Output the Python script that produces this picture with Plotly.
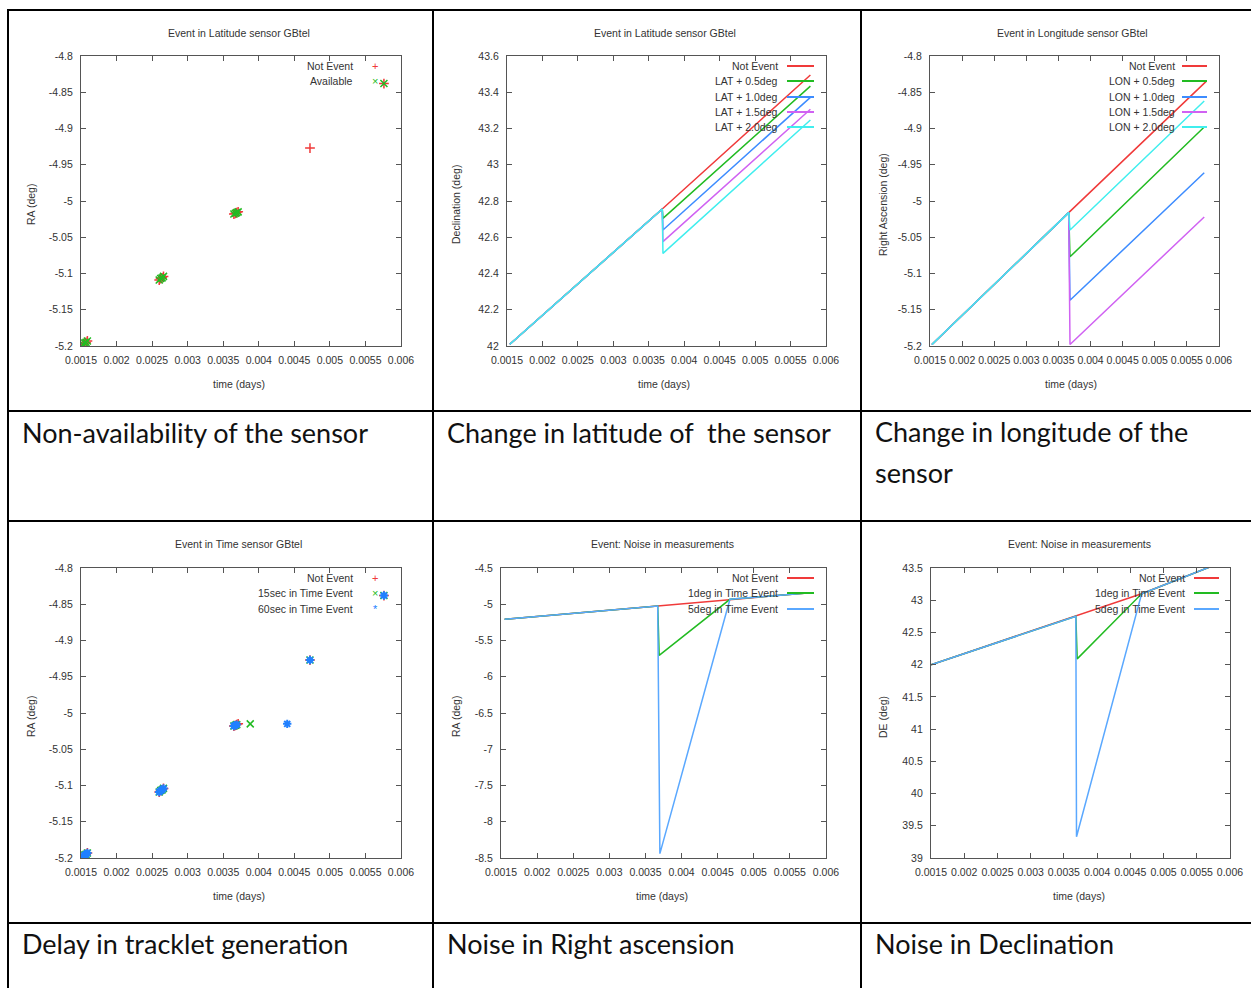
import plotly.graph_objects as go

W, H = 1251, 988

# ---------------- data ----------------
# Panel 1: Non-availability of the sensor (RA vs time)
na_not_t = [0.00153, 0.00155, 0.00157, 0.00159, 0.00260, 0.00262, 0.00264, 0.00266,
            0.00365, 0.00367, 0.00369, 0.00371, 0.00472, 0.00576]
na_not_ra = [-5.198, -5.196, -5.195, -5.193, -5.109, -5.107, -5.106, -5.104,
             -5.018, -5.017, -5.016, -5.015, -4.927, -4.838]
na_av_t = [0.00153, 0.00155, 0.00157, 0.00159, 0.00260, 0.00262, 0.00264, 0.00266,
           0.00365, 0.00367, 0.00369, 0.00371, 0.00576]
na_av_ra = [-5.198, -5.196, -5.195, -5.193, -5.109, -5.107, -5.106, -5.104,
            -5.018, -5.017, -5.016, -5.015, -4.838]

# Panel 2: Change in latitude (Declination vs time)
lat_not_t = [0.00154, 0.00369, 0.00578]
lat_not = [42.01, 42.756, 43.495]
lat_ev_t = [0.00154, 0.00369, 0.00370, 0.00578]
lat_05 = [42.01, 42.756, 42.704, 43.434]
lat_10 = [42.01, 42.756, 42.640, 43.372]
lat_15 = [42.01, 42.756, 42.576, 43.306]
lat_20 = [42.01, 42.756, 42.511, 43.247]

# Panel 3: Change in longitude (Right Ascension vs time)
lon_not_t = [0.00153, 0.00366, 0.00580]
lon_not = [-5.198, -5.016, -4.835]
lon_ev_t = [0.00153, 0.00366, 0.00368, 0.00577]
lon_05 = [-5.198, -5.016, -5.077, -4.898]
lon_10 = [-5.198, -5.016, -5.137, -4.961]
lon_15 = [-5.198, -5.016, -5.198, -5.022]
lon_20 = [-5.198, -5.016, -5.040, -4.862]

# Panel 4: Delay in tracklet generation (RA vs time)
td_not_t = [0.00153, 0.00155, 0.00157, 0.00159, 0.00260, 0.00262, 0.00264, 0.00266,
            0.00365, 0.00367, 0.00369, 0.00371, 0.00472, 0.00576]
td_not_ra = [-5.198, -5.196, -5.195, -5.193, -5.109, -5.107, -5.106, -5.104,
             -5.018, -5.017, -5.016, -5.015, -4.927, -4.838]
td_15_t = [0.00153, 0.00155, 0.00157, 0.00159, 0.00260, 0.00262, 0.00264, 0.00266,
           0.00365, 0.00367, 0.00369, 0.00388, 0.00472, 0.00576]
td_15_ra = [-5.198, -5.196, -5.195, -5.193, -5.109, -5.107, -5.106, -5.104,
            -5.018, -5.017, -5.016, -5.015, -4.927, -4.838]
td_60_t = [0.00153, 0.00155, 0.00157, 0.00159, 0.00260, 0.00262, 0.00264, 0.00266,
           0.00365, 0.00367, 0.00369, 0.00440, 0.00472, 0.00576]
td_60_ra = [-5.198, -5.196, -5.195, -5.193, -5.109, -5.107, -5.106, -5.104,
            -5.018, -5.017, -5.016, -5.015, -4.927, -4.838]

# Panel 5: Noise in Right ascension
nra_not_t = [0.00155, 0.00367, 0.00467, 0.00578]
nra_not = [-5.208, -5.024, -4.932, -4.840]
nra_1_t = [0.00155, 0.00367, 0.00369, 0.00467, 0.00578]
nra_1 = [-5.208, -5.024, -5.705, -4.932, -4.840]
nra_5_t = [0.00155, 0.00367, 0.00370, 0.00467, 0.00578]
nra_5 = [-5.208, -5.024, -8.440, -4.932, -4.840]

# Panel 6: Noise in Declination
nde_not_t = [0.00150, 0.00368, 0.00467, 0.00578]
nde_not = [42.00, 42.75, 43.10, 43.55]
nde_1_t = [0.00150, 0.00368, 0.00370, 0.00467, 0.00578]
nde_1 = [42.00, 42.75, 42.09, 43.10, 43.55]
nde_5_t = [0.00150, 0.00368, 0.00369, 0.00467, 0.00578]
nde_5 = [42.00, 42.75, 39.33, 43.10, 43.55]

# tick values / labels
x_tickvals = [0.0015, 0.002, 0.0025, 0.003, 0.0035, 0.004, 0.0045, 0.005, 0.0055, 0.006]
x_ticktext = ["0.0015", "0.002", "0.0025", "0.003", "0.0035", "0.004", "0.0045", "0.005", "0.0055", "0.006"]
ra_tickvals = [-4.8, -4.85, -4.9, -4.95, -5.0, -5.05, -5.1, -5.15, -5.2]
ra_ticktext = ["-4.8", "-4.85", "-4.9", "-4.95", "-5", "-5.05", "-5.1", "-5.15", "-5.2"]
dec_tickvals = [42.0, 42.2, 42.4, 42.6, 42.8, 43.0, 43.2, 43.4, 43.6]
dec_ticktext = ["42", "42.2", "42.4", "42.6", "42.8", "43", "43.2", "43.4", "43.6"]
nra_tickvals = [-4.5, -5.0, -5.5, -6.0, -6.5, -7.0, -7.5, -8.0, -8.5]
nra_ticktext = ["-4.5", "-5", "-5.5", "-6", "-6.5", "-7", "-7.5", "-8", "-8.5"]
nde_tickvals = [39.0, 39.5, 40.0, 40.5, 41.0, 41.5, 42.0, 42.5, 43.0, 43.5]
nde_ticktext = ["39", "39.5", "40", "40.5", "41", "41.5", "42", "42.5", "43", "43.5"]

# ---------------- style ----------------
RED = '#f03a3a'
GREEN = '#22bb22'
BLUE = '#3d8cff'
MAGENTA = '#d062f2'
CYAN = '#40eeee'
LBLUE = '#5aa8ff'
SBLUE = '#2080ff'
FONT = 'Liberation Sans, Arial, sans-serif'
CAPFONT = 'Lato, Noto Sans, sans-serif'
TXT = '#333333'


def px(x):
    return x / W


def py(y):
    return 1 - y / H


fig = go.Figure()

# panel plot areas in pixels: (left, right, top, bottom)
areas = {
    1: (81, 401, 56, 346),
    2: (507, 826, 56, 346),
    3: (930, 1219, 56, 346),
    4: (81, 401, 568, 858),
    5: (501, 826, 568, 858),
    6: (931, 1230, 568, 858),
}
yspec = {
    1: ([-5.2, -4.8], ra_tickvals, ra_ticktext),
    2: ([42.0, 43.6], dec_tickvals, dec_ticktext),
    3: ([-5.2, -4.8], ra_tickvals, ra_ticktext),
    4: ([-5.2, -4.8], ra_tickvals, ra_ticktext),
    5: ([-8.5, -4.5], nra_tickvals, nra_ticktext),
    6: ([39.0, 43.5], nde_tickvals, nde_ticktext),
}

layout_axes = {}
for i, (l, r, t, b) in areas.items():
    sfx = '' if i == 1 else str(i)
    common = dict(ticks='inside', ticklen=5, tickwidth=1, tickcolor='#555555',
                  showline=True, linecolor='#555555', linewidth=1.2, mirror='ticks',
                  showgrid=False, zeroline=False, fixedrange=True, automargin=False,
                  tickfont=dict(family=FONT, size=10.5, color=TXT))
    layout_axes['xaxis' + sfx] = dict(common, domain=[px(l), px(r)], range=[0.0015, 0.006],
                                      tickvals=x_tickvals, ticktext=x_ticktext,
                                      anchor='y' + sfx, ticklabelstandoff=4)
    rng, tv, tt = yspec[i]
    layout_axes['yaxis' + sfx] = dict(common, domain=[py(b), py(t)], range=rng,
                                      tickvals=tv, ticktext=tt,
                                      anchor='x' + sfx, ticklabelstandoff=5)


def line(i, x, y, color, name):
    sfx = '' if i == 1 else str(i)
    fig.add_trace(go.Scatter(x=x, y=y, mode='lines', name=name, showlegend=False,
                             line=dict(color=color, width=1.5),
                             xaxis='x' + sfx, yaxis='y' + sfx))


def pts(i, x, y, color, symbol, name, size=7, lw=1.5):
    sfx = '' if i == 1 else str(i)
    fig.add_trace(go.Scatter(x=x, y=y, mode='markers', name=name, showlegend=False,
                             marker=dict(symbol=symbol, size=size, color=color,
                                         line=dict(color=color, width=lw)),
                             xaxis='x' + sfx, yaxis='y' + sfx))


# Panel 1
pts(1, na_not_t, na_not_ra, RED, 'cross-thin', 'Not Event')
pts(1, na_av_t, na_av_ra, GREEN, 'x-thin', 'Available')
# Panel 2
line(2, lat_not_t, lat_not, RED, 'Not Event')
line(2, lat_ev_t, lat_05, GREEN, 'LAT + 0.5deg')
line(2, lat_ev_t, lat_10, BLUE, 'LAT + 1.0deg')
line(2, lat_ev_t, lat_15, MAGENTA, 'LAT + 1.5deg')
line(2, lat_ev_t, lat_20, CYAN, 'LAT + 2.0deg')
# Panel 3
line(3, lon_not_t, lon_not, RED, 'Not Event')
line(3, lon_ev_t, lon_05, GREEN, 'LON + 0.5deg')
line(3, lon_ev_t, lon_10, BLUE, 'LON + 1.0deg')
line(3, lon_ev_t, lon_15, MAGENTA, 'LON + 1.5deg')
line(3, lon_ev_t, lon_20, CYAN, 'LON + 2.0deg')
# Panel 4
pts(4, td_not_t, td_not_ra, RED, 'cross-thin', 'Not Event')
pts(4, td_15_t, td_15_ra, GREEN, 'x-thin', '15sec in Time Event')
pts(4, td_60_t, td_60_ra, SBLUE, 'asterisk', '60sec in Time Event', size=7, lw=2)
# Panel 5
line(5, nra_not_t, nra_not, RED, 'Not Event')
line(5, nra_1_t, nra_1, GREEN, '1deg in Time Event')
line(5, nra_5_t, nra_5, LBLUE, '5deg in Time Event')
# Panel 6
line(6, nde_not_t, nde_not, RED, 'Not Event')
line(6, nde_1_t, nde_1, GREEN, '1deg in Time Event')
line(6, nde_5_t, nde_5, LBLUE, '5deg in Time Event')

annotations = []
shapes = []


def text(x, y, s, size=10.5, xanchor='center', color=TXT, family=FONT, angle=0):
    annotations.append(dict(x=px(x), y=py(y), xref='paper', yref='paper', text=s,
                            showarrow=False, xanchor=xanchor, yanchor='middle',
                            textangle=angle, font=dict(family=family, size=size, color=color)))


def hline(x0, x1, y, color='black', width=2):
    shapes.append(dict(type='line', xref='paper', yref='paper', x0=px(x0), x1=px(x1),
                       y0=py(y), y1=py(y), line=dict(color=color, width=width)))


def vline(x, y0, y1, color='black', width=2):
    shapes.append(dict(type='line', xref='paper', yref='paper', x0=px(x), x1=px(x),
                       y0=py(y0), y1=py(y1), line=dict(color=color, width=width)))


# titles
titles = [(239, 33, "Event in Latitude sensor GBtel"),
          (665, 33, "Event in Latitude sensor GBtel"),
          (1072, 33, "Event in Longitude sensor GBtel"),
          (239, 544, "Event in Time sensor GBtel"),
          (662, 544, "Event: Noise in measurements"),
          (1079, 544, "Event: Noise in measurements")]
for x, y, s in titles:
    text(x, y, s)

# x labels
for x, y in [(239, 384), (664, 384), (1071, 384), (239, 896), (662, 896), (1079, 896)]:
    text(x, y, "time (days)")

# y labels
for x, y, s in [(31, 205, "RA (deg)"), (456, 205, "Declination (deg)"),
                (883, 205, "Right Ascension (deg)"), (31, 717, "RA (deg)"),
                (456, 717, "RA (deg)"), (883, 717, "DE (deg)")]:
    text(x, y, s, angle=-90)

# legends (gnuplot style: right-aligned text then sample)
rows1 = [66, 81, 97, 112, 127]
rows2 = [578, 593, 609]


def line_legend(text_right, s0, s1, rows, entries):
    for y, (s, c) in zip(rows, entries):
        text(text_right, y, s, xanchor='right')
        hline(s0, s1, y, color=c, width=2)


def mark_legend(text_right, mx, rows, entries):
    for y, (s, c, g) in zip(rows, entries):
        text(text_right, y, s, xanchor='right')
        text(mx, y, g, size=11, color=c)


mark_legend(355, 375, rows1, [("Not Event", RED, "+"), ("Available", GREEN, "×")])
line_legend(780, 787, 814, rows1, [("Not Event", RED), ("LAT + 0.5deg", GREEN),
                                    ("LAT + 1.0deg", BLUE), ("LAT + 1.5deg", MAGENTA),
                                    ("LAT + 2.0deg", CYAN)])
line_legend(1177, 1182, 1207, rows1, [("Not Event", RED), ("LON + 0.5deg", GREEN),
                                       ("LON + 1.0deg", BLUE), ("LON + 1.5deg", MAGENTA),
                                       ("LON + 2.0deg", CYAN)])
mark_legend(355, 375, rows2, [("Not Event", RED, "+"), ("15sec in Time Event", GREEN, "×"),
                              ("60sec in Time Event", SBLUE, "*")])
line_legend(780, 787, 814, rows2, [("Not Event", RED), ("1deg in Time Event", GREEN),
                                    ("5deg in Time Event", LBLUE)])
line_legend(1187, 1194, 1219, rows2, [("Not Event", RED), ("1deg in Time Event", GREEN),
                                       ("5deg in Time Event", LBLUE)])

# captions
CAP = 27
for x, y, s in [(20, 432, "Non-availability of the sensor"),
                (445, 432, "Change in latitude of\u00a0 the sensor"),
                (873, 431, "Change in longitude of the"),
                (873, 472, "sensor"),
                (20, 943, "Delay in tracklet generation"),
                (445, 943, "Noise in Right ascension"),
                (873, 943, "Noise in Declination")]:
    text(x, y, s, size=CAP, xanchor='left', color='#111111', family=CAPFONT)

# table grid
for x in [8, 433, 861]:
    vline(x, 9, 988)
for y in [10, 411, 521, 923]:
    hline(7, 1251, y)

fig.update_layout(width=W, height=H, autosize=False,
                  margin=dict(l=0, r=0, t=0, b=0, pad=0, autoexpand=False),
                  paper_bgcolor='white', plot_bgcolor='white',
                  showlegend=False, annotations=annotations, shapes=shapes,
                  **layout_axes)

fig.write_html("out.html", config={'displayModeBar': False},
               post_script="document.body.style.margin='0';document.body.style.overflow='hidden';")
